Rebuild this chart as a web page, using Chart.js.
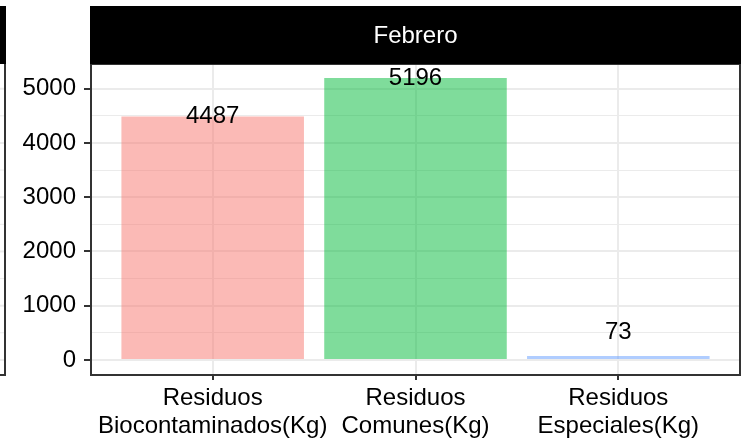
<!DOCTYPE html>
<html><head><meta charset="utf-8">
<script src="https://cdn.jsdelivr.net/npm/chart.js@4/dist/chart.umd.min.js"></script>
<style>html,body{margin:0;padding:0;background:#fff;overflow:hidden}#wrap{width:752px;height:443px;position:relative}</style>
</head><body><div id="wrap"><canvas id="c" width="752" height="443"></canvas></div>
<script>
const categories = [["Residuos","Biocontaminados(Kg)"],["Residuos","Comunes(Kg)"],["Residuos","Especiales(Kg)"]];
const values = [4487, 5196, 73];
const yMajorTicks = [0, 1000, 2000, 3000, 4000, 5000];
const yMinorTicks = [500, 1500, 2500, 3500, 4500];
const facetTitle = "Febrero";
const barColors = ['rgba(248,118,109,0.5)', 'rgba(0,186,56,0.5)', 'rgba(97,156,255,0.5)'];
const labelMinY = 500;

const FONT = '"Liberation Sans", Arial, sans-serif';
const DARK = '#333333';
const GRID = '#EBEBEB';

const facetPlugin = {
  id: 'facet',
  afterDraw(chart) {
    const ctx = chart.ctx, a = chart.chartArea, y = chart.scales.y;
    ctx.save();
    // left partial panel (neighbouring facet)
    ctx.strokeStyle = GRID;
    [...yMajorTicks, ...yMinorTicks].forEach(v => {
      const py = y.getPixelForValue(v);
      ctx.lineWidth = yMajorTicks.includes(v) ? 2 : 1;
      ctx.beginPath(); ctx.moveTo(0, py); ctx.lineTo(5, py); ctx.stroke();
    });
    ctx.fillStyle = '#000';
    ctx.fillRect(0, 6, 6, a.top - 6);
    ctx.strokeStyle = DARK; ctx.lineWidth = 2;
    ctx.beginPath(); ctx.moveTo(5, a.top); ctx.lineTo(5, a.bottom + 1); ctx.lineTo(0, a.bottom + 1); ctx.stroke();
    // panel border
    ctx.strokeRect(a.left, a.top, a.right - a.left, a.bottom - a.top + 1);
    // strip
    ctx.fillStyle = '#000';
    ctx.fillRect(a.left - 1, 6, a.right - a.left + 2, a.top - 6);
    ctx.fillStyle = '#fff';
    ctx.font = '24px ' + FONT;
    ctx.textAlign = 'center'; ctx.textBaseline = 'middle';
    ctx.fillText(facetTitle, (a.left + a.right) / 2, (6 + a.top) / 2 + 1);
    // value labels
    ctx.fillStyle = '#000';
    const meta = chart.getDatasetMeta(0);
    meta.data.forEach((bar, i) => {
      const py = y.getPixelForValue(Math.max(values[i], labelMinY));
      ctx.fillText(String(values[i]), bar.x, py);
    });
    ctx.restore();
  }
};

new Chart(document.getElementById('c'), {
  type: 'bar',
  data: {
    datasets: [{
      data: values.map((v, i) => ({ x: i + 1, y: v })),
      backgroundColor: barColors,
      borderWidth: 0,
      barPercentage: 0.9,
      categoryPercentage: 1.0
    }]
  },
  options: {
    responsive: false,
    devicePixelRatio: 1,
    animation: false,
    layout: { padding: { left: 0, right: 12, top: 64, bottom: 0 } },
    plugins: { legend: { display: false }, tooltip: { enabled: false } },
    scales: {
      x: {
        type: 'linear',
        min: 0.4, max: 3.6,
        offset: false,
        afterBuildTicks: s => { s.ticks = categories.map((c, i) => ({ value: i + 1 })); },
        afterFit: s => { s.height = 443 - 374; },
        border: { display: false },
        grid: { offset: false, color: GRID, lineWidth: 2, tickLength: 6, tickColor: DARK, tickWidth: 2 },
        ticks: {
          autoSkip: false, maxRotation: 0,
          color: '#000', padding: 5,
          font: { family: FONT, size: 24, lineHeight: 1.15 },
          callback: (v) => categories[Math.round(v) - 1]
        }
      },
      y: {
        min: -259.8, max: 5455.8,
        afterBuildTicks: s => { s.ticks = [...yMajorTicks, ...yMinorTicks].sort((p, q) => p - q).map(v => ({ value: v })); },
        afterFit: s => { s.width = 91; },
        border: { display: false },
        grid: {
          color: GRID,
          lineWidth: c => (c.tick && yMajorTicks.includes(c.tick.value)) ? 2 : 1,
          tickLength: 7,
          tickColor: c => (c.tick && yMajorTicks.includes(c.tick.value)) ? DARK : 'rgba(0,0,0,0)',
          tickWidth: 2
        },
        ticks: {
          autoSkip: false, color: '#000', padding: 8,
          font: { family: FONT, size: 24 },
          callback: v => yMajorTicks.includes(v) ? String(v) : ''
        }
      }
    }
  },
  plugins: [facetPlugin]
});
</script></body></html>
